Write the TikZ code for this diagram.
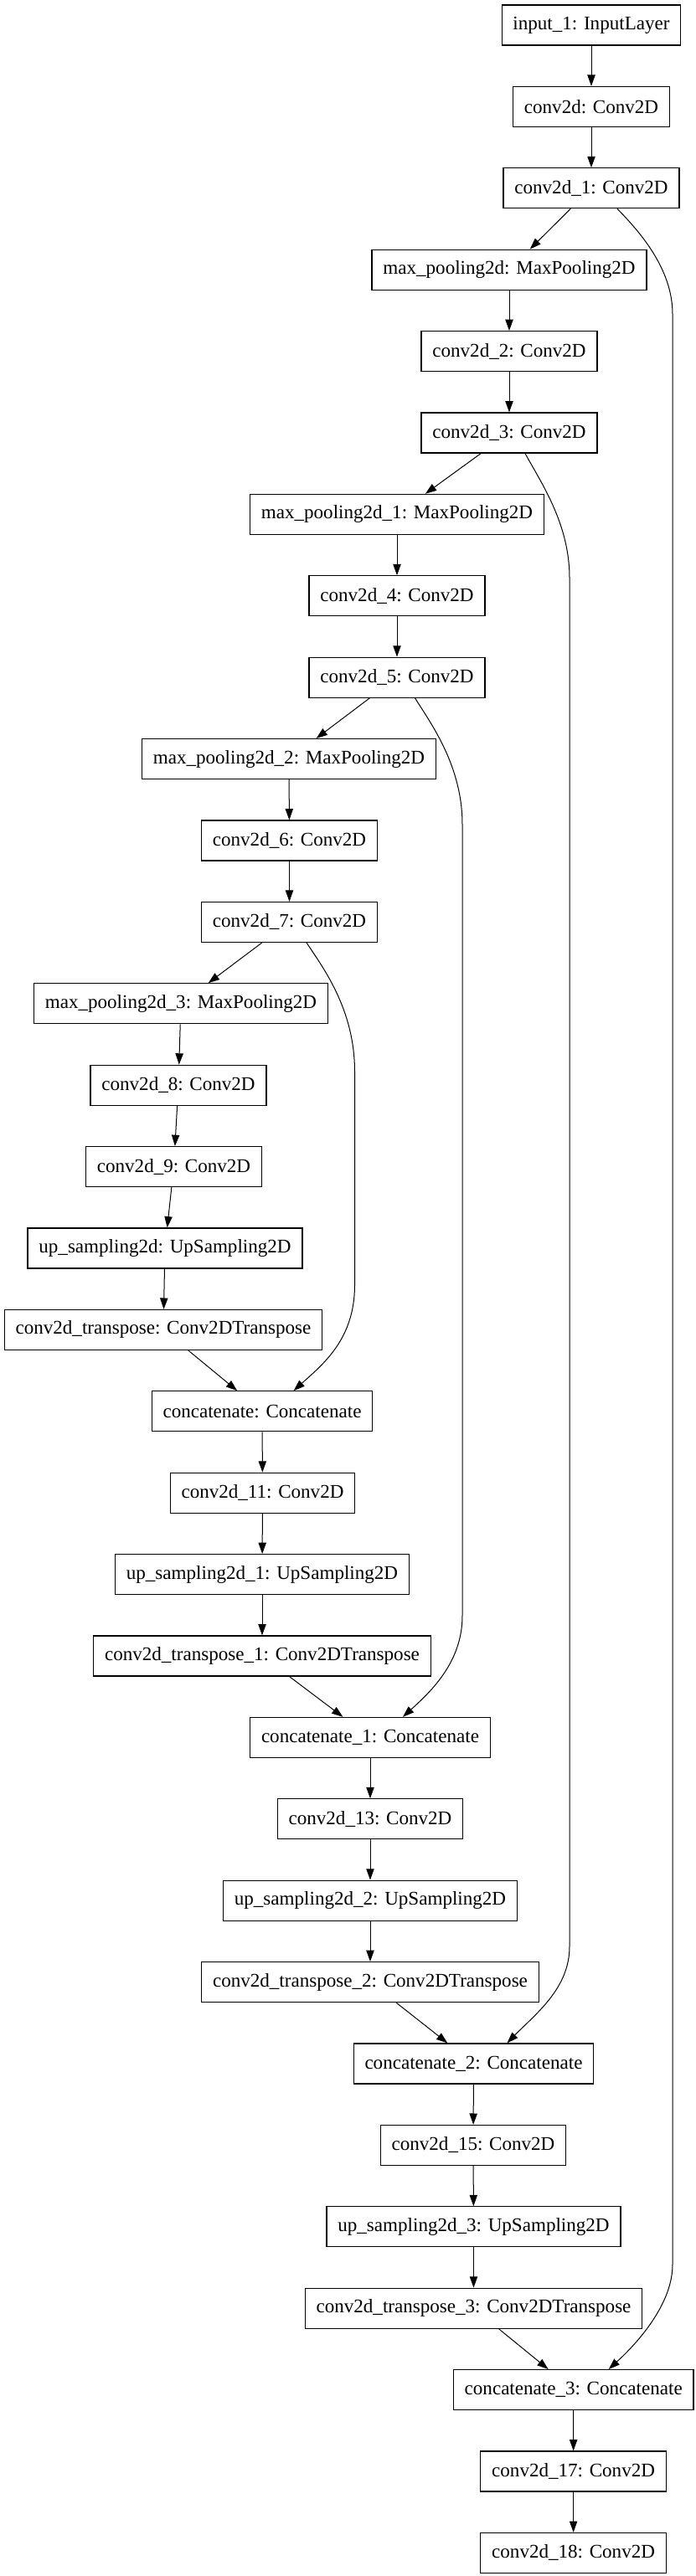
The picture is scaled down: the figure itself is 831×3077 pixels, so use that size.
\documentclass[tikz,border=0pt]{standalone}
\usepackage{fontspec}
\setmainfont{Liberation Serif}
\usetikzlibrary{calc,arrows.meta}

\begin{document}
\begin{tikzpicture}[x=0.75pt, y=-0.75pt, line width=0.75pt, >={Triangle[length=10pt,width=7pt]},
    layer/.style={rectangle, draw, line width=0.9pt, inner xsep=10pt, minimum height=36pt, font=\fontsize{17.3}{20}\selectfont}]
            \useasboundingbox (0,0) rectangle (831,3077);
            \node[layer] (in) at (706,30) {input\_1: InputLayer};
            \node[layer] (c0) at (706,127.4) {conv2d: Conv2D};
            \node[layer] (c1) at (706,224.8) {conv2d\_1: Conv2D};
            \node[layer] (mp0) at (608,322.2) {max\_pooling2d: MaxPooling2D};
            \node[layer] (c2) at (608,419.6) {conv2d\_2: Conv2D};
            \node[layer] (c3) at (608,517) {conv2d\_3: Conv2D};
            \node[layer] (mp1) at (474,614.4) {max\_pooling2d\_1: MaxPooling2D};
            \node[layer] (c4) at (474,711.8) {conv2d\_4: Conv2D};
            \node[layer] (c5) at (474,809.2) {conv2d\_5: Conv2D};
            \node[layer] (mp2) at (345,906.6) {max\_pooling2d\_2: MaxPooling2D};
            \node[layer] (c6) at (345.5,1004) {conv2d\_6: Conv2D};
            \node[layer] (c7) at (345.5,1101.4) {conv2d\_7: Conv2D};
            \node[layer] (mp3) at (216,1198.8) {max\_pooling2d\_3: MaxPooling2D};
            \node[layer] (c8) at (213,1296.2) {conv2d\_8: Conv2D};
            \node[layer] (c9) at (207.5,1393.6) {conv2d\_9: Conv2D};
            \node[layer] (up0) at (197,1491) {up\_sampling2d: UpSampling2D};
            \node[layer] (ct0) at (195,1588.4) {conv2d\_transpose: Conv2DTranspose};
            \node[layer] (cat0) at (313,1685.8) {concatenate: Concatenate};
            \node[layer] (c11) at (313.5,1783.2) {conv2d\_11: Conv2D};
            \node[layer] (up1) at (313,1880.6) {up\_sampling2d\_1: UpSampling2D};
            \node[layer] (ct1) at (313,1978) {conv2d\_transpose\_1: Conv2DTranspose};
            \node[layer] (cat1) at (442,2075.4) {concatenate\_1: Concatenate};
            \node[layer] (c13) at (442,2172.8) {conv2d\_13: Conv2D};
            \node[layer] (up2) at (442,2270.2) {up\_sampling2d\_2: UpSampling2D};
            \node[layer] (ct2) at (442,2367.6) {conv2d\_transpose\_2: Conv2DTranspose};
            \node[layer] (cat2) at (565.5,2465) {concatenate\_2: Concatenate};
            \node[layer] (c15) at (565,2562.4) {conv2d\_15: Conv2D};
            \node[layer] (up3) at (565.5,2659.8) {up\_sampling2d\_3: UpSampling2D};
            \node[layer] (ct3) at (565.5,2757.2) {conv2d\_transpose\_3: Conv2DTranspose};
            \node[layer] (cat3) at (684.7,2854.6) {concatenate\_3: Concatenate};
            \node[layer] (c17) at (684.6,2952) {conv2d\_17: Conv2D};
            \node[layer] (c18) at (684.6,3049.4) {conv2d\_18: Conv2D};
            \draw[->] (in) -- (c0);
            \draw[->] (c0) -- (c1);
            \draw[->] (c1) -- (mp0);
            \draw[->] (mp0) -- (c2);
            \draw[->] (c2) -- (c3);
            \draw[->] (c3) -- (mp1);
            \draw[->] (mp1) -- (c4);
            \draw[->] (c4) -- (c5);
            \draw[->] (c5) -- (mp2);
            \draw[->] (mp2) -- (c6);
            \draw[->] (c6) -- (c7);
            \draw[->] (c7) -- (mp3);
            \draw[->] (mp3) -- (c8);
            \draw[->] (c8) -- (c9);
            \draw[->] (c9) -- (up0);
            \draw[->] (up0) -- (ct0);
            \draw[->] (ct0) -- (cat0);
            \draw[->] (cat0) -- (c11);
            \draw[->] (c11) -- (up1);
            \draw[->] (up1) -- (ct1);
            \draw[->] (ct1) -- (cat1);
            \draw[->] (cat1) -- (c13);
            \draw[->] (c13) -- (up2);
            \draw[->] (up2) -- (ct2);
            \draw[->] (ct2) -- (cat2);
            \draw[->] (cat2) -- (c15);
            \draw[->] (c15) -- (up3);
            \draw[->] (up3) -- (ct3);
            \draw[->] (ct3) -- (cat3);
            \draw[->] (cat3) -- (c17);
            \draw[->] (c17) -- (c18);
            \draw[->] ($(c1.south)+(31,0)$) .. controls (762,275) and (803,320) .. (803,375) -- (803,2705) .. controls (803,2750) and (765,2795) .. ($(cat3.north)+(42,0)$);
            \draw[->] ($(c3.south)+(19,0)$) .. controls (645,575) and (680,625) .. (680,690) -- (680,2325) .. controls (680,2375) and (640,2405) .. ($(cat2.north)+(40,0)$);
            \draw[->] ($(c5.south)+(21.5,0)$) .. controls (515,865) and (552,915) .. (552,985) -- (552,1930) .. controls (552,1985) and (515,2020) .. ($(cat1.north)+(39,0)$);
            \draw[->] ($(c7.south)+(20.5,0)$) .. controls (385,1155) and (423.5,1205) .. (423.5,1280) -- (423.5,1535) .. controls (423.5,1600) and (385,1630) .. ($(cat0.north)+(37.6,0)$);
        \end{tikzpicture}
\end{document}
